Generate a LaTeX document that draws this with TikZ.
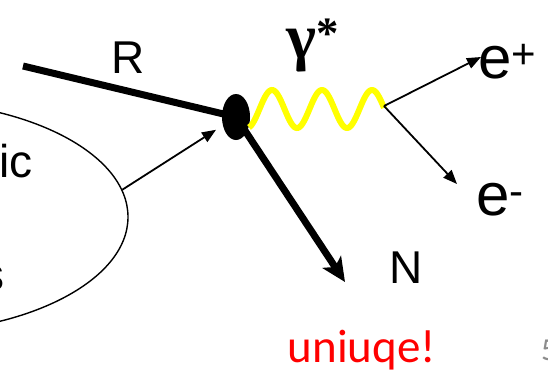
\documentclass[tikz,border=0pt]{standalone}
\usepackage{fontspec}
\setmainfont{Liberation Sans}
\newfontfamily\calib{Carlito}
\newfontfamily\serifb{Liberation Serif}
\usetikzlibrary{arrows.meta,shapes.geometric}
\definecolor{wavey}{HTML}{FFFF00}
\definecolor{numgray}{HTML}{8C8C8C}
\tikzset{
  lbl/.style={inner sep=0pt, font=\fontsize{46}{50}\selectfont},
  elbl/.style={inner sep=0pt, font=\fontsize{60}{64}\selectfont},
  thickline/.style={line width=7pt},
  thinarrow/.style={line width=1.8pt, -{Triangle[length=14pt,width=11pt]}},
  thickarrow/.style={line width=7pt, -{Stealth[length=24pt,width=22pt,inset=6pt]}},
}
\begin{document}
\begin{tikzpicture}[x=1pt,y=-1pt]
\useasboundingbox (0,0) rectangle (548,373);
\clip (0,0) rectangle (548,373);
\fill[white] (0,0) rectangle (548,373);
% hadron ellipse
\node[draw, ellipse, line width=1.4pt, minimum width=456pt, minimum height=232pt, inner sep=0pt] (had) at (-100,217) {};
\node[lbl, anchor=base east] (tic) at (33,177) {ic};
\node[lbl, anchor=base east] (ts) at (5,290) {s};
% vertex
\coordinate (r0) at (23,66);
\coordinate (ntip) at (345,282);
\draw[thickline] (r0) -- (236,117);
\draw[thickarrow] (238,120) -- (ntip);
\node[fill, ellipse, minimum width=28pt, minimum height=46pt, inner sep=0pt] (v) at (236,117) {};
\draw[thinarrow, shorten >=8pt] (had.7.4) -- (v);
% photon
\draw[wavey, line width=6pt] plot[domain=249:384, samples=120, smooth] (\x, {109-19*cos(7.2*(\x-272))});
\coordinate (w1) at (384,106);
\coordinate (eptip) at (481,57);
\coordinate (emtip) at (457,184);
\draw[thinarrow] (w1) -- (eptip);
\draw[thinarrow] (w1) -- (emtip);
% labels
\node[lbl, anchor=base] (tR) at (128,73) {R};
\node[inner sep=0pt, anchor=base, font=\fontsize{64}{66}\selectfont\serifb\bfseries] (tg) at (313,58) {γ\textsuperscript{*}};
\node[elbl, anchor=base west] (tep) at (478,78) {e\textsuperscript{+}};
\node[elbl, anchor=base west] (tem) at (476,215) {e\textsuperscript{-}};
\node[lbl, anchor=base] (tN) at (406,283) {N};
\node[inner sep=0pt, anchor=base, text=red, font=\fontsize{47}{50}\selectfont\calib] (tu) at (362,362) {uniuqe!};
\node[inner sep=0pt, anchor=base west, text=numgray, font=\fontsize{32}{36}\selectfont\calib] (tn) at (541,360) {5};
\end{tikzpicture}
\end{document}
